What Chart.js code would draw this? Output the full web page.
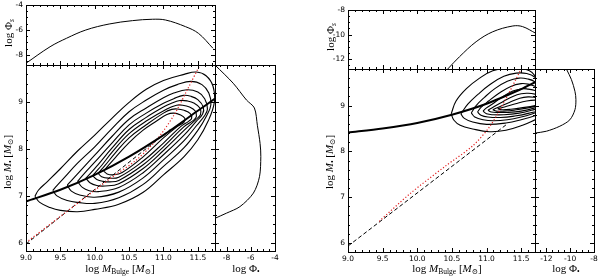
<!DOCTYPE html>
<html>
<head>
<meta charset="utf-8">
<script src="https://cdn.jsdelivr.net/npm/chart.js@4.4.1/dist/chart.umd.min.js"></script>
<style>
  body { margin: 0; background: #fff; }
  #fig { position: relative; width: 600px; height: 278px; overflow: hidden; }
  #fig canvas { position: absolute; left: 0; top: 0; }
  .lbl { position: absolute; font-family: 'Liberation Serif', 'DejaVu Serif', serif; font-size: 11px; color: #000; white-space: nowrap; line-height: 1; }
  .lbl sub { font-size: 7.5px; vertical-align: -2px; line-height: 0; }
  .hor { transform: translate(-50%, -50%); }
  .rot { transform: translate(-50%, -50%) rotate(-90deg); }
</style>
</head>
<body>
<div id="fig">
  <canvas id="leftTop" width="600" height="278"></canvas>
  <canvas id="leftMain" width="600" height="278"></canvas>
  <canvas id="leftSide" width="600" height="278"></canvas>
  <canvas id="rightTop" width="600" height="278"></canvas>
  <canvas id="rightMain" width="600" height="278"></canvas>
  <canvas id="rightSide" width="600" height="278"></canvas>

  <div class="lbl hor" style="left:120px;top:268px">log <i>M</i><sub>Bulge</sub> [<i>M</i><sub>⊙</sub>]</div>
  <div class="lbl hor" style="left:246px;top:268px">log Φ<sub>•</sub></div>
  <div class="lbl rot" style="left:7px;top:162px">log <i>M</i><sub>•</sub> [<i>M</i><sub>⊙</sub>]</div>
  <div class="lbl rot" style="left:8px;top:33px">log Φ<sub><i>s</i></sub></div>

  <div class="lbl hor" style="left:447px;top:268px">log <i>M</i><sub>Bulge</sub> [<i>M</i><sub>⊙</sub>]</div>
  <div class="lbl hor" style="left:566px;top:268px">log Φ<sub>•</sub></div>
  <div class="lbl rot" style="left:329px;top:162px">log <i>M</i><sub>•</sub> [<i>M</i><sub>⊙</sub>]</div>
  <div class="lbl rot" style="left:330px;top:37px">log Φ<sub><i>s</i></sub></div>
</div>
<script>
// tick labels
const bulgeTicks = [9.0, 9.5, 10.0, 10.5, 11.0, 11.5];
const bhTicks = [6, 7, 8, 9];
const leftPhiSTicks = [-8, -6, -4];
const rightPhiSTicks = [-12, -10, -8];
const leftPhiBhTicks = [-8, -6, -4];
const rightPhiBhTicks = [-12, -10, -8];

// left figure: [log M_bulge, log M_bh]
const leftRelation = [[9.0, 6.88], [9.5, 7.13], [10.0, 7.45], [10.5, 7.84], [11.0, 8.3], [11.5, 8.82], [11.75, 9.08]];
const leftLinear = [[9.0, 5.97], [11.1, 8.42]];
const leftRed = [[9.0, 6.0], [9.5, 6.56], [10.0, 7.12], [10.3, 7.45], [10.6, 7.76], [10.9, 8.2], [11.15, 8.72], [11.35, 9.28], [11.53, 9.8]];
const leftContours = [
  [[9.13, 6.99], [9.2, 6.86], [9.35, 6.75], [9.5, 6.69], [9.75, 6.66], [10.0, 6.71], [10.35, 6.82], [10.7, 7.07], [11.0, 7.45], [11.3, 7.84], [11.5, 8.2], [11.65, 8.6], [11.74, 9.0], [11.72, 9.35], [11.62, 9.57], [11.48, 9.65], [11.3, 9.6], [11.0, 9.47], [10.75, 9.28], [10.5, 9.0], [10.25, 8.66], [10.0, 8.3], [9.75, 7.96], [9.5, 7.58], [9.3, 7.29], [9.18, 7.12], [9.13, 6.99]],
  [[9.39, 7.12], [9.45, 7.0], [9.6, 6.9], [9.75, 6.86], [10.0, 6.84], [10.35, 6.96], [10.7, 7.24], [11.0, 7.63], [11.3, 8.03], [11.5, 8.4], [11.63, 8.72], [11.69, 8.95], [11.66, 9.2], [11.56, 9.38], [11.4, 9.45], [11.2, 9.38], [11.0, 9.26], [10.75, 9.05], [10.5, 8.8], [10.25, 8.44], [10.0, 8.05], [9.75, 7.7], [9.55, 7.38], [9.45, 7.22], [9.39, 7.12]],
  [[9.6, 7.23], [9.66, 7.1], [9.78, 7.02], [10.0, 6.97], [10.35, 7.08], [10.7, 7.38], [11.0, 7.77], [11.3, 8.18], [11.48, 8.5], [11.6, 8.72], [11.64, 8.86], [11.6, 9.08], [11.5, 9.22], [11.34, 9.27], [11.15, 9.2], [11.0, 9.1], [10.75, 8.88], [10.5, 8.64], [10.25, 8.27], [10.0, 7.87], [9.8, 7.55], [9.68, 7.36], [9.6, 7.23]],
  [[9.75, 7.31], [9.82, 7.18], [9.92, 7.11], [10.05, 7.09], [10.35, 7.18], [10.7, 7.49], [11.0, 7.88], [11.3, 8.3], [11.48, 8.6], [11.57, 8.75], [11.58, 8.9], [11.5, 9.06], [11.4, 9.13], [11.29, 9.15], [11.15, 9.08], [11.0, 8.98], [10.75, 8.77], [10.5, 8.52], [10.25, 8.13], [10.0, 7.72], [9.85, 7.48], [9.75, 7.31]],
  [[9.87, 7.38], [9.93, 7.28], [10.03, 7.22], [10.15, 7.21], [10.35, 7.26], [10.7, 7.58], [11.0, 7.97], [11.3, 8.4], [11.47, 8.63], [11.54, 8.74], [11.53, 8.88], [11.45, 8.98], [11.35, 9.03], [11.24, 9.04], [11.1, 8.97], [11.0, 8.9], [10.75, 8.68], [10.5, 8.42], [10.25, 8.02], [10.05, 7.67], [9.95, 7.5], [9.87, 7.38]],
  [[9.97, 7.43], [10.03, 7.35], [10.12, 7.31], [10.22, 7.3], [10.35, 7.33], [10.7, 7.66], [11.0, 8.05], [11.3, 8.48], [11.44, 8.62], [11.48, 8.7], [11.46, 8.82], [11.38, 8.9], [11.28, 8.94], [11.19, 8.94], [11.05, 8.86], [10.75, 8.6], [10.5, 8.33], [10.25, 7.93], [10.1, 7.65], [10.02, 7.52], [9.97, 7.43]],
  [[10.05, 7.48], [10.1, 7.41], [10.2, 7.38], [10.35, 7.4], [10.7, 7.74], [11.0, 8.13], [11.25, 8.48], [11.37, 8.6], [11.41, 8.66], [11.39, 8.76], [11.3, 8.83], [11.2, 8.86], [11.12, 8.85], [11.0, 8.77], [10.75, 8.52], [10.5, 8.24], [10.3, 7.92], [10.15, 7.65], [10.09, 7.55], [10.05, 7.48]],
  [[10.13, 7.53], [10.18, 7.47], [10.27, 7.45], [10.4, 7.5], [10.7, 7.83], [11.0, 8.24], [11.2, 8.48], [11.3, 8.58], [11.31, 8.66], [11.25, 8.73], [11.15, 8.77], [11.05, 8.74], [10.9, 8.6], [10.7, 8.4], [10.5, 8.14], [10.3, 7.82], [10.18, 7.62], [10.13, 7.53]]
];
const leftPhiS = [[9.0, -8.66], [9.35, -7.34], [9.59, -6.66], [9.87, -6.0], [10.21, -5.52], [10.55, -5.25], [10.84, -5.14], [11.03, -5.2], [11.32, -5.73], [11.51, -6.27], [11.72, -7.46]];
const leftPhiBh = [[-8.95, 9.8], [-7.45, 9.41], [-6.35, 9.05], [-5.7, 8.88], [-5.45, 8.5], [-5.23, 8.12], [-5.17, 7.84], [-5.28, 7.41], [-5.78, 7.06], [-6.89, 6.77], [-8.0, 6.63], [-8.95, 6.52]];

// right figure
const rightRelation = [[9.0, 8.41], [9.5, 8.5], [10.0, 8.62], [10.5, 8.8], [11.0, 9.04], [11.5, 9.36], [11.7, 9.51]];
const rightLinear = [[9.0, 5.93], [11.3, 8.6]];
const rightRed = [[9.45, 6.47], [9.9, 7.08], [10.4, 7.67], [10.8, 8.12], [11.05, 8.55], [11.28, 9.15], [11.5, 9.8]];
const rightContours = [
  [[10.49, 8.82], [10.53, 8.68], [10.62, 8.57], [10.8, 8.49], [11.04, 8.43], [11.28, 8.46], [11.52, 8.57], [11.7, 8.69], [11.85, 8.8], [11.85, 9.3], [11.7, 9.65], [11.62, 9.76], [11.45, 9.83], [11.3, 9.82], [11.09, 9.76], [10.9, 9.6], [10.71, 9.37], [10.56, 9.1], [10.49, 8.82]],
  [[10.63, 8.82], [10.68, 8.72], [10.8, 8.64], [11.0, 8.59], [11.28, 8.62], [11.5, 8.69], [11.7, 8.78], [11.85, 8.87], [11.85, 9.35], [11.7, 9.62], [11.58, 9.7], [11.43, 9.71], [11.25, 9.64], [11.05, 9.46], [10.88, 9.25], [10.73, 9.03], [10.63, 8.82]],
  [[10.78, 8.84], [10.83, 8.75], [10.95, 8.69], [11.1, 8.67], [11.3, 8.69], [11.5, 8.75], [11.7, 8.84], [11.85, 8.92], [11.85, 9.3], [11.7, 9.52], [11.6, 9.58], [11.47, 9.6], [11.3, 9.53], [11.12, 9.37], [10.97, 9.18], [10.85, 9.0], [10.78, 8.84]],
  [[10.87, 8.86], [10.92, 8.79], [11.02, 8.75], [11.2, 8.74], [11.4, 8.77], [11.6, 8.83], [11.85, 8.96], [11.85, 9.26], [11.7, 9.42], [11.6, 9.47], [11.5, 9.48], [11.35, 9.42], [11.18, 9.27], [11.03, 9.1], [10.92, 8.96], [10.87, 8.86]],
  [[10.95, 8.88], [11.0, 8.82], [11.1, 8.8], [11.25, 8.8], [11.45, 8.83], [11.65, 8.9], [11.85, 9.0], [11.85, 9.22], [11.7, 9.33], [11.6, 9.36], [11.52, 9.37], [11.38, 9.32], [11.22, 9.18], [11.08, 9.03], [10.99, 8.94], [10.95, 8.88]],
  [[11.02, 8.9], [11.07, 8.86], [11.17, 8.85], [11.3, 8.85], [11.5, 8.88], [11.7, 8.95], [11.85, 9.03], [11.85, 9.18], [11.7, 9.25], [11.6, 9.27], [11.5, 9.26], [11.38, 9.2], [11.23, 9.08], [11.1, 8.97], [11.02, 8.9]],
  [[11.09, 8.91], [11.14, 8.88], [11.25, 8.88], [11.4, 8.9], [11.6, 8.95], [11.85, 9.05], [11.85, 9.14], [11.7, 9.18], [11.6, 9.19], [11.48, 9.16], [11.33, 9.07], [11.18, 8.97], [11.09, 8.91]],
  [[11.16, 8.93], [11.22, 8.91], [11.35, 8.92], [11.5, 8.95], [11.7, 9.0], [11.85, 9.06], [11.85, 9.11], [11.7, 9.12], [11.58, 9.1], [11.42, 9.04], [11.26, 8.97], [11.16, 8.93]]
];
const rightPhiS = [[10.44, -12.8], [10.61, -11.8], [10.85, -10.58], [11.09, -9.77], [11.38, -9.3], [11.52, -9.35], [11.71, -9.89]];
const rightPhiBh = [[-10.32, 9.8], [-9.9, 9.57], [-9.6, 9.31], [-9.52, 9.13], [-9.6, 8.91], [-10.03, 8.69], [-10.87, 8.55], [-12.0, 8.44], [-12.96, 8.4]];

const Y_AXIS_W = 24;   // room kept for the left tick labels
const X_AXIS_H = 14;   // room kept for the bottom tick labels

// frame round each panel plus inward major/minor ticks on all four sides
const frameTicks = {
  id: 'frameTicks',
  afterDatasetsDraw(chart, args, o) {
    const { ctx, chartArea: a } = chart;
    const sx = chart.scales.x, sy = chart.scales.y;
    const minors = (s, step) => {
      const out = [];
      for (let i = Math.ceil(s.min / step - 1e-6); i * step <= s.max + 1e-6; i++) out.push(i * step);
      return out;
    };
    ctx.save();
    ctx.strokeStyle = '#000';
    ctx.lineWidth = 1;
    ctx.beginPath();
    const vtick = (v, len) => {
      const p = Math.round(sx.getPixelForValue(v)) + 0.5;
      if (p <= a.left + 1 || p >= a.right - 1) return;
      ctx.moveTo(p, a.bottom); ctx.lineTo(p, a.bottom - len);
      ctx.moveTo(p, a.top); ctx.lineTo(p, a.top + len);
    };
    const htick = (v, len) => {
      const p = Math.round(sy.getPixelForValue(v)) + 0.5;
      if (p <= a.top + 1 || p >= a.bottom - 1) return;
      ctx.moveTo(a.left, p); ctx.lineTo(a.left + len, p);
      ctx.moveTo(a.right, p); ctx.lineTo(a.right - len, p);
    };
    o.xMajor.forEach(v => vtick(v, 4));
    minors(sx, o.xMinor).forEach(v => vtick(v, 2));
    o.yMajor.forEach(v => htick(v, 4));
    minors(sy, o.yMinor).forEach(v => htick(v, 2));
    ctx.stroke();
    ctx.strokeRect(a.left + 0.5, a.top + 0.5, a.right - a.left, a.bottom - a.top);
    ctx.restore();
  }
};

function axis(min, max, ticks, show, horizontal, digits) {
  return {
    type: 'linear', min, max, display: show,
    position: horizontal ? 'bottom' : 'left',
    grid: { display: false, drawTicks: false },
    border: { display: false },
    ticks: {
      color: '#000', padding: 3, maxRotation: 0, autoSkip: false,
      font: { family: 'DejaVu Sans', size: 7.5 },
      callback: v => v.toFixed(digits)
    },
    afterBuildTicks: s => { s.ticks = ticks.map(v => ({ value: v })); },
    afterFit: s => {
      if (horizontal) s.height = show ? X_AXIS_H : 0;
      else s.width = show ? Y_AXIS_W : 0;
      s.paddingLeft = s.paddingRight = s.paddingTop = s.paddingBottom = 0;
    }
  };
}

const line = (arr, extra) => Object.assign({
  data: arr.map(([x, y]) => ({ x, y })),
  showLine: true, borderColor: '#000', borderWidth: 1, tension: 0.4,
  pointRadius: 0, fill: false
}, extra);

// box = [left, top, right, bottom] of the plotting area in page pixels
function panel(id, box, xAxis, yAxis, marks, datasets) {
  const padL = box[0] - (yAxis.display ? Y_AXIS_W : 0);
  const padB = 278 - box[3] - (xAxis.display ? X_AXIS_H : 0);
  new Chart(document.getElementById(id), {
    type: 'scatter',
    data: { datasets },
    options: {
      responsive: false, animation: false, events: [],
      layout: { padding: { left: padL, top: box[1], right: 600 - box[2], bottom: padB } },
      scales: { x: xAxis, y: yAxis },
      elements: { line: { capBezierPoints: false } },
      plugins: { legend: { display: false }, tooltip: { enabled: false }, frameTicks: marks }
    },
    plugins: [frameTicks]
  });
}

function mainSets(relation, linear, red, contours) {
  return [
    line(relation, { borderWidth: 2, tension: 0.3 }),
    line(red, { borderColor: '#e01e1e', borderWidth: 1.2, borderDash: [1.2, 2], tension: 0.3 }),
    line(linear, { borderDash: [4, 2.5], tension: 0 }),
    ...contours.map(c => line(c, { borderWidth: 1.1 }))
  ];
}

// left figure
panel('leftTop', [26, 5, 215, 65],
  axis(9.0, 11.75, bulgeTicks, false, true, 1),
  axis(-8.8, -4.0, leftPhiSTicks, true, false, 0),
  { xMajor: bulgeTicks, xMinor: 0.1, yMajor: leftPhiSTicks, yMinor: 0.5 },
  [line(leftPhiS, { tension: 0.35 })]);
panel('leftMain', [26, 65, 215, 251],
  axis(9.0, 11.75, bulgeTicks, true, true, 1),
  axis(5.82, 9.8, bhTicks, true, false, 0),
  { xMajor: bulgeTicks, xMinor: 0.1, yMajor: bhTicks, yMinor: 0.2 },
  mainSets(leftRelation, leftLinear, leftRed, leftContours));
panel('leftSide', [215, 65, 275, 251],
  axis(-8.95, -4.0, leftPhiBhTicks, true, true, 0),
  axis(5.82, 9.8, bhTicks, false, false, 0),
  { xMajor: leftPhiBhTicks, xMinor: 0.5, yMajor: bhTicks, yMinor: 0.2 },
  [line(leftPhiBh, { tension: 0.3 })]);

// right figure
panel('rightTop', [348, 10, 535, 69],
  axis(9.0, 11.7, bulgeTicks, false, true, 1),
  axis(-12.8, -8.0, rightPhiSTicks, true, false, 0),
  { xMajor: bulgeTicks, xMinor: 0.1, yMajor: rightPhiSTicks, yMinor: 0.5 },
  [line(rightPhiS, { tension: 0.35 })]);
panel('rightMain', [348, 69, 535, 252],
  axis(9.0, 11.7, bulgeTicks, true, true, 1),
  axis(5.8, 9.8, bhTicks, true, false, 0),
  { xMajor: bulgeTicks, xMinor: 0.1, yMajor: bhTicks, yMinor: 0.2 },
  mainSets(rightRelation, rightLinear, rightRed, rightContours));
panel('rightSide', [535, 69, 594, 252],
  axis(-12.96, -8.0, rightPhiBhTicks, true, true, 0),
  axis(5.8, 9.8, bhTicks, false, false, 0),
  { xMajor: rightPhiBhTicks, xMinor: 0.5, yMajor: bhTicks, yMinor: 0.2 },
  [line(rightPhiBh, { tension: 0.3 })]);
</script>
</body>
</html>
